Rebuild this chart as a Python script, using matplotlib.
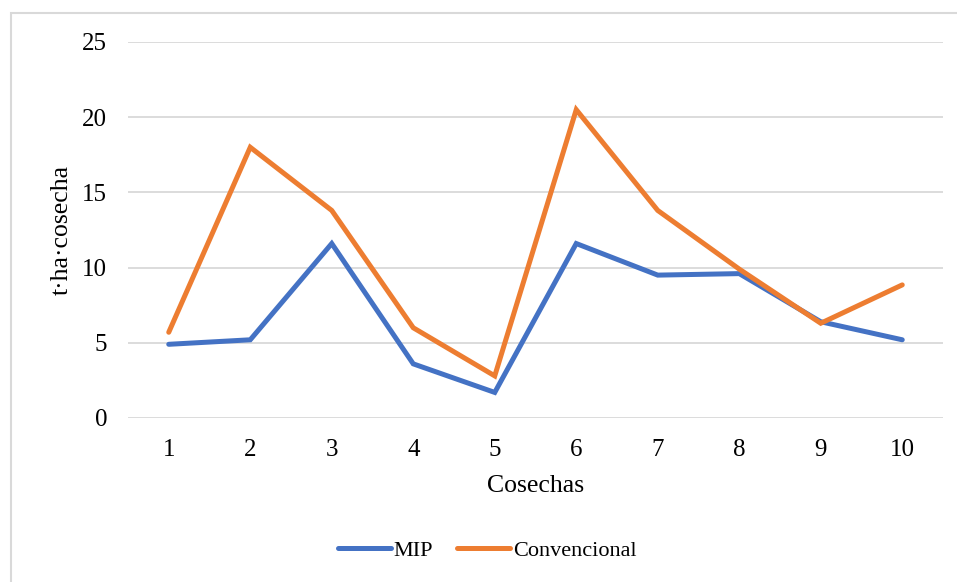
import matplotlib
matplotlib.use("Agg")
import matplotlib.pyplot as plt
from matplotlib.patches import Rectangle

# harvest number and yield (t/ha per harvest)
cosechas = [1, 2, 3, 4, 5, 6, 7, 8, 9, 10]
mip = [4.9, 5.2, 11.6, 3.6, 1.7, 11.6, 9.5, 9.6, 6.4, 5.2]
convencional = [5.7, 18.0, 13.8, 6.0, 2.8, 20.5, 13.8, 9.9, 6.3, 8.85]

plt.rcParams["font.family"] = ["Liberation Serif", "DejaVu Serif"]

fig = plt.figure(figsize=(9.57, 5.82), dpi=100)

# light outer frame of the chart area (cut at right/bottom)
fig.patches.append(Rectangle((11 / 957, -0.1), 1.2, 1 - 13 / 582 + 0.1,
                             transform=fig.transFigure, fill=False,
                             edgecolor="#D9D9D9", lw=1.5))

ax = fig.add_axes([128 / 957, 1 - 418 / 582, (943 - 128) / 957, (418 - 42) / 582])

ax.plot(cosechas, mip, color="#4472C4", lw=3.6, solid_capstyle="round",
        solid_joinstyle="miter", label="MIP")
ax.plot(cosechas, convencional, color="#ED7D31", lw=3.6, solid_capstyle="round",
        solid_joinstyle="miter", label="Convencional")

ax.set_xlim(0.5, 10.5)
ax.set_ylim(0, 25)
ax.set_yticks([0, 5, 10, 15, 20, 25])
ax.set_xticks(cosechas)
ax.grid(True, axis="y", color="#D9D9D9", lw=1.3)
ax.set_axisbelow(True)
for s in ax.spines.values():
    s.set_visible(False)
ax.tick_params(length=0, labelsize=18)
ax.tick_params(axis="y", pad=15)
ax.tick_params(axis="x", pad=15)

ax.set_xlabel("Cosechas", fontsize=18.5, labelpad=10)
ax.set_ylabel("t·ha·cosecha", fontsize=18.5, labelpad=7)

ha, lb = ax.get_legend_handles_labels()
leg = fig.legend(ha, lb, loc="center", bbox_to_anchor=(487 / 957, 1 - 551 / 582),
                 ncol=2, frameon=False, fontsize=16, handlelength=2.4,
                 handletextpad=0.1, columnspacing=1.1)

fig.savefig("out.png", dpi=100)
